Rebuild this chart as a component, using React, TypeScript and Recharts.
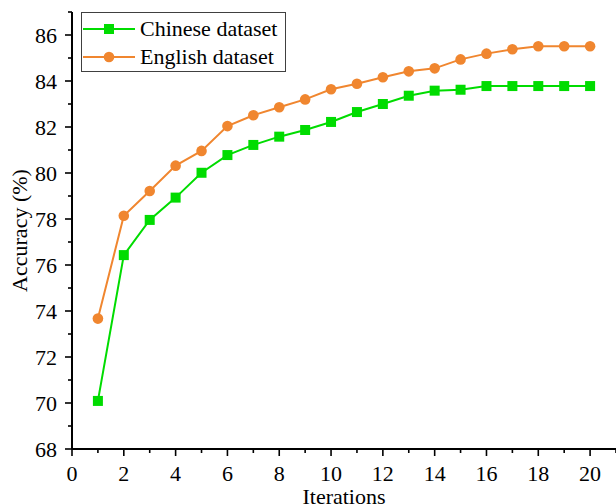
import React from 'react';
import { LineChart, Line, XAxis, YAxis, Legend } from 'recharts';

const iterations = [1, 2, 3, 4, 5, 6, 7, 8, 9, 10, 11, 12, 13, 14, 15, 16, 17, 18, 19, 20];
const chineseAcc = [70.09, 76.43, 77.96, 78.93, 80.01, 80.78, 81.22, 81.58, 81.87, 82.22, 82.65, 83.0, 83.36, 83.58, 83.62, 83.78, 83.78, 83.78, 83.78, 83.78];
const englishAcc = [73.67, 78.14, 79.22, 80.32, 80.96, 82.04, 82.51, 82.86, 83.2, 83.64, 83.88, 84.16, 84.42, 84.55, 84.94, 85.19, 85.38, 85.51, 85.51, 85.51];
const xTicks = [0, 1, 2, 3, 4, 5, 6, 7, 8, 9, 10, 11, 12, 13, 14, 15, 16, 17, 18, 19, 20, 21];
const yTicks = [68, 69, 70, 71, 72, 73, 74, 75, 76, 77, 78, 79, 80, 81, 82, 83, 84, 85, 86, 87];

const data = iterations.map((it, i) => ({ it, chinese: chineseAcc[i], english: englishAcc[i] }));

const GREEN = '#00dc00';
const ORANGE = '#f0862f';
const FONT = 'Liberation Serif';

const XTick = (props: any) => {
  const { x, y, payload } = props;
  const major = payload.value % 2 === 0 && payload.value <= 20;
  return (
    <g>
      <line x1={x} y1={y} x2={x} y2={y + (major ? 7 : 4)} stroke="#000" strokeWidth={1.6} />
      {major && (
        <text x={x} y={y + 32} textAnchor="middle" fill="#000" fontFamily={FONT} fontSize={22}>
          {String(payload.value)}
        </text>
      )}
    </g>
  );
};

const YTick = (props: any) => {
  const { x, y, payload } = props;
  const major = payload.value % 2 === 0;
  return (
    <g>
      <line x1={x - (major ? 7 : 4)} y1={y} x2={x} y2={y} stroke="#000" strokeWidth={1.6} />
      {major && (
        <text x={x - 15} y={y + 7.5} textAnchor="end" fill="#000" fontFamily={FONT} fontSize={22}>
          {String(payload.value)}
        </text>
      )}
    </g>
  );
};

const SquareDot = (p: any) => (
  <rect key={`sq-${p.index}`} x={p.cx - 5} y={p.cy - 5} width={10} height={10} fill={GREEN} />
);

const CircleDot = (p: any) => (
  <circle key={`ci-${p.index}`} cx={p.cx} cy={p.cy} r={5.3} fill={ORANGE} />
);

const LegendBox = () => (
  <div
    style={{
      boxSizing: 'border-box',
      width: 205,
      height: 60,
      border: '1.5px solid #404040',
      background: '#fff',
      paddingTop: 2,
      fontFamily: FONT,
      fontSize: 22,
      color: '#000',
    }}
  >
    {[
      { name: 'Chinese dataset', color: GREEN, square: true },
      { name: 'English dataset', color: ORANGE, square: false },
    ].map((r) => (
      <div key={r.name} style={{ display: 'flex', alignItems: 'center', height: 28 }}>
        <svg width={58} height={28} style={{ flex: 'none' }}>
          <line x1={1} y1={14} x2={53} y2={14} stroke={r.color} strokeWidth={2} />
          {r.square ? (
            <rect x={22} y={9} width={10} height={10} fill={r.color} />
          ) : (
            <circle cx={27} cy={14} r={5.3} fill={r.color} />
          )}
        </svg>
        <span style={{ lineHeight: '28px', whiteSpace: 'nowrap' }}>{r.name}</span>
      </div>
    ))}
  </div>
);

export default function App() {
  return (
    <div style={{ position: 'absolute', left: 0, top: 0, width: 616, height: 504, background: '#fff' }}>
      <LineChart
        width={616}
        height={504}
        data={data}
        margin={{ top: 12, right: 0, bottom: 0, left: 0 }}
        style={{ fontFamily: FONT }}
      >
        <XAxis
          dataKey="it"
          type="number"
          domain={[0, 21]}
          ticks={xTicks}
          interval={0}
          height={55}
          tickSize={0}
          tickMargin={0}
          tickLine={false}
          tick={<XTick />}
          axisLine={{ stroke: '#000', strokeWidth: 2 }}
          label={{ value: 'Iterations', position: 'insideBottom', offset: 0, fontSize: 22, fill: '#000', fontFamily: FONT }}
        />
        <YAxis
          type="number"
          domain={[68, 87]}
          ticks={yTicks}
          interval={0}
          width={72}
          tickSize={0}
          tickMargin={0}
          tickLine={false}
          tick={<YTick />}
          axisLine={{ stroke: '#000', strokeWidth: 2 }}
          label={{ value: 'Accuracy (%)', angle: -90, position: 'insideLeft', offset: 19, fontSize: 22, fill: '#000', fontFamily: FONT, style: { textAnchor: 'middle' } }}
        />
        <Legend
          layout="horizontal"
          verticalAlign="middle"
          align="center"
          wrapperStyle={{ left: 81, top: 12, width: 'auto' }}
          content={<LegendBox />}
        />
        <Line
          type="linear"
          dataKey="chinese"
          name="Chinese dataset"
          stroke={GREEN}
          strokeWidth={2}
          dot={SquareDot}
          activeDot={false}
          isAnimationActive={false}
        />
        <Line
          type="linear"
          dataKey="english"
          name="English dataset"
          stroke={ORANGE}
          strokeWidth={2}
          dot={CircleDot}
          activeDot={false}
          isAnimationActive={false}
        />
      </LineChart>
    </div>
  );
}
